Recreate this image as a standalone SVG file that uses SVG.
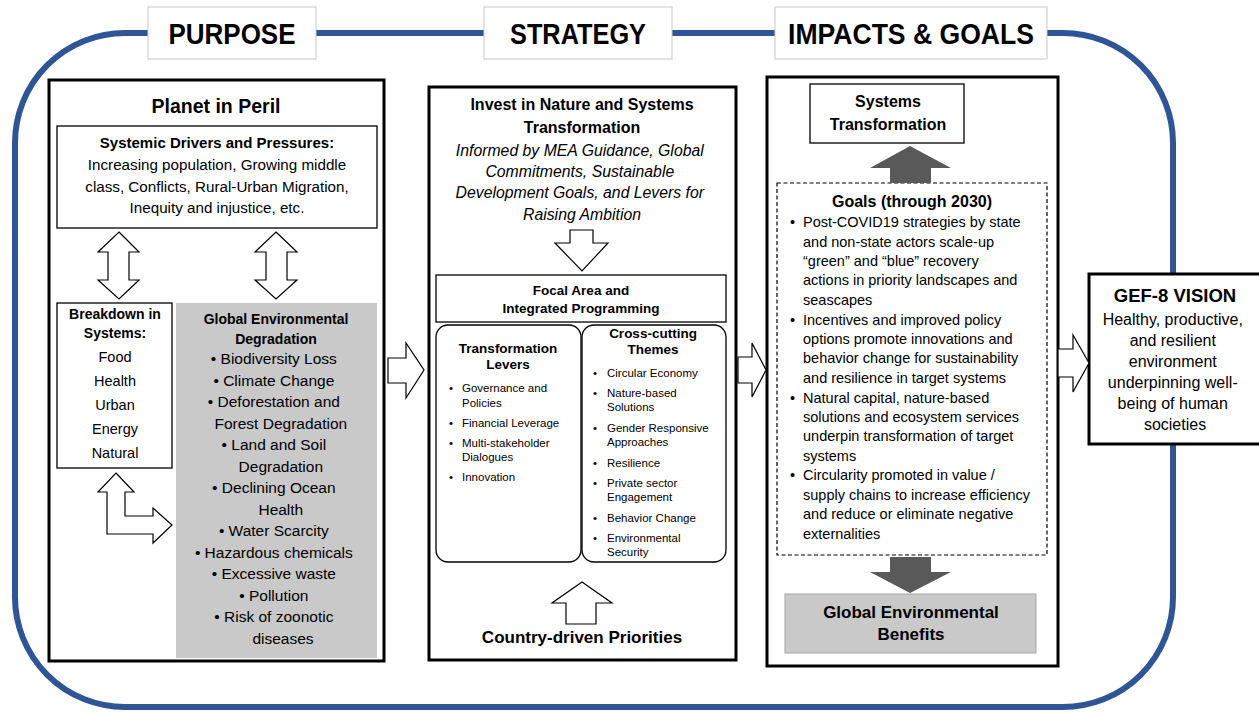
<svg xmlns="http://www.w3.org/2000/svg" width="1259" height="713" viewBox="0 0 1259 713">
<style>
text{font-family:"Liberation Sans",Arial,sans-serif;fill:#000}
.b{font-weight:bold}
.c{text-anchor:middle}
.i{font-style:italic}
.hdr{font-size:29px;font-weight:bold;text-anchor:middle}
.hbox{fill:#fff;stroke:#c8c8c8;stroke-width:1}
.big{fill:#fff;stroke:#000;stroke-width:3}
.thin{fill:#fff;stroke:#000;stroke-width:1.3}
.hollow{fill:#fff;stroke:#000;stroke-width:1.2;stroke-linejoin:miter}
.dark{fill:#595959;stroke:none}
</style>
<rect width="1259" height="713" fill="#fff"/>
<g id="frame">
<rect x="15" y="33" width="1158" height="674" rx="110" ry="110" fill="none" stroke="#2F5597" stroke-width="6"/>
</g>
<g id="headers">
<rect class="hbox" x="148" y="7" width="168" height="52"/>
<text class="hdr" x="232" y="44" textLength="127" lengthAdjust="spacingAndGlyphs">PURPOSE</text>
<rect class="hbox" x="484" y="7" width="188" height="52"/>
<text class="hdr" x="578" y="44" textLength="136" lengthAdjust="spacingAndGlyphs">STRATEGY</text>
<rect class="hbox" x="775" y="7" width="272" height="52"/>
<text class="hdr" x="911" y="44" textLength="246" lengthAdjust="spacingAndGlyphs">IMPACTS &amp; GOALS</text>
</g>
<g id="purpose">
<rect class="big" x="49" y="80" width="335" height="581"/>
<text class="b c" x="216" y="113" font-size="19.5">Planet in Peril</text>
<g id="drivers">
<rect class="thin" x="57" y="126" width="320" height="102"/>
<text class="b c" x="217" y="148" font-size="15">Systemic Drivers and Pressures:</text>
<text class="c" x="217" y="170" font-size="15.2">Increasing population, Growing middle</text>
<text class="c" x="217" y="192" font-size="15.2">class, Conflicts, Rural-Urban Migration,</text>
<text class="c" x="217" y="213" font-size="15.2">Inequity and injustice, etc.</text>
</g>
<g id="breakdown">
<rect class="thin" x="57" y="303" width="115" height="165"/>
<text class="b c" x="115" y="319" font-size="14">Breakdown in</text>
<text class="b c" x="115" y="338" font-size="14">Systems:</text>
<text class="c" x="115" y="362" font-size="14.5">Food</text>
<text class="c" x="115" y="386" font-size="14.5">Health</text>
<text class="c" x="115" y="410" font-size="14.5">Urban</text>
<text class="c" x="115" y="434" font-size="14.5">Energy</text>
<text class="c" x="115" y="458" font-size="14.5">Natural</text>
</g>
<g id="degradation">
<rect x="176" y="303" width="201" height="355" fill="#c9c9c9"/>
<text class="b c" x="276" y="324" font-size="14">Global Environmental</text>
<text class="b c" x="276" y="344" font-size="14">Degradation</text>
<text class="c" font-size="15.5">
<tspan x="276" y="364">• Biodiversity Loss</tspan>
<tspan x="276" y="386">• Climate Change</tspan>
<tspan x="276" y="407">• Deforestation and</tspan>
<tspan x="283" y="429">Forest Degradation</tspan>
<tspan x="276" y="450">• Land and Soil</tspan>
<tspan x="283" y="472">Degradation</tspan>
<tspan x="276" y="493">• Declining Ocean</tspan>
<tspan x="283" y="515">Health</tspan>
<tspan x="276" y="536">• Water Scarcity</tspan>
<tspan x="276" y="558">• Hazardous chemicals</tspan>
<tspan x="276" y="579">• Excessive waste</tspan>
<tspan x="276" y="601">• Pollution</tspan>
<tspan x="276" y="622">• Risk of zoonotic</tspan>
<tspan x="283" y="644">diseases</tspan>
</text>
</g>
</g>
<g id="strategy">
<rect class="big" x="429" y="87" width="307" height="573"/>
<text class="b c" x="582" y="110" font-size="16">Invest in Nature and Systems</text>
<text class="b c" x="582" y="133" font-size="16">Transformation</text>
<text class="i c" font-size="15.8">
<tspan x="582" y="156">Informed by MEA Guidance, Global</tspan>
<tspan x="582" y="177">Commitments, Sustainable</tspan>
<tspan x="582" y="198">Development Goals, and Levers for</tspan>
<tspan x="582" y="220">Raising Ambition</tspan>
</text>
<g id="focal">
<rect class="thin" x="436" y="275" width="290" height="47"/>
<text class="b c" x="581" y="295" font-size="13.5">Focal Area and</text>
<text class="b c" x="581" y="313" font-size="13.5">Integrated Programming</text>
</g>
<g id="levers">
<rect class="thin" x="436" y="325" width="145" height="237" rx="12" ry="12"/>
<text class="b c" x="508" y="353" font-size="13.5">Transformation</text>
<text class="b c" x="508" y="369" font-size="13.5">Levers</text>
<g font-size="11.5">
<text x="449" y="392">•</text><text x="462" y="392">Governance and</text>
<text x="462" y="407">Policies</text>
<text x="449" y="427">•</text><text x="462" y="427">Financial Leverage</text>
<text x="449" y="447">•</text><text x="462" y="447">Multi-stakeholder</text>
<text x="462" y="461">Dialogues</text>
<text x="449" y="481">•</text><text x="462" y="481">Innovation</text>
</g>
</g>
<g id="themes">
<rect class="thin" x="582" y="325" width="144" height="237" rx="12" ry="12"/>
<text class="b c" x="653" y="338" font-size="13.5">Cross-cutting</text>
<text class="b c" x="653" y="354" font-size="13.5">Themes</text>
<g font-size="11.5">
<text x="593" y="377">•</text><text x="607" y="377">Circular Economy</text>
<text x="593" y="397">•</text><text x="607" y="397">Nature-based</text>
<text x="607" y="411">Solutions</text>
<text x="593" y="432">•</text><text x="607" y="432">Gender Responsive</text>
<text x="607" y="446">Approaches</text>
<text x="593" y="467">•</text><text x="607" y="467">Resilience</text>
<text x="593" y="487">•</text><text x="607" y="487">Private sector</text>
<text x="607" y="501">Engagement</text>
<text x="593" y="522">•</text><text x="607" y="522">Behavior Change</text>
<text x="593" y="542">•</text><text x="607" y="542">Environmental</text>
<text x="607" y="556">Security</text>
</g>
</g>
<text class="b c" x="582" y="643" font-size="17">Country-driven Priorities</text>
</g>
<g id="impacts">
<rect class="big" x="767" y="77" width="291" height="589"/>
<g id="systems-transformation">
<rect class="thin" x="810" y="84" width="154" height="59"/>
<text class="b c" x="888" y="107" font-size="16">Systems</text>
<text class="b c" x="888" y="130" font-size="16">Transformation</text>
</g>
<g id="goals">
<rect x="777" y="183" width="270" height="372" fill="#fff" stroke="#000" stroke-width="1.2" stroke-dasharray="4 2.5"/>
<text class="b c" x="912" y="207" font-size="16">Goals (through 2030)</text>
<g font-size="14.5">
<text x="790" y="227">•</text><text x="803" y="227">Post-COVID19 strategies by state</text>
<text x="803" y="247">and non-state actors scale-up</text>
<text x="803" y="266">“green” and “blue” recovery</text>
<text x="803" y="285">actions in priority landscapes and</text>
<text x="803" y="305">seascapes</text>
<text x="790" y="325">•</text><text x="803" y="325">Incentives and improved policy</text>
<text x="803" y="344">options promote innovations and</text>
<text x="803" y="363">behavior change for sustainability</text>
<text x="803" y="383">and resilience in target systems</text>
<text x="790" y="403">•</text><text x="803" y="403">Natural capital, nature-based</text>
<text x="803" y="422">solutions and ecosystem services</text>
<text x="803" y="441">underpin transformation of target</text>
<text x="803" y="461">systems</text>
<text x="790" y="480">•</text><text x="803" y="480">Circularity promoted in value /</text>
<text x="803" y="500">supply chains to increase efficiency</text>
<text x="803" y="519">and reduce or eliminate negative</text>
<text x="803" y="539">externalities</text>
</g>
</g>
<g id="benefits">
<rect x="785" y="594" width="251" height="59" fill="#c9c9c9" stroke="#a6a6a6" stroke-width="1"/>
<text class="b c" x="911" y="618" font-size="17">Global Environmental</text>
<text class="b c" x="911" y="640" font-size="17">Benefits</text>
</g>
</g>
<g id="vision">
<rect x="1089" y="274" width="172" height="170" fill="#fff" stroke="#000" stroke-width="3"/>
<text class="b c" x="1175" y="302" font-size="18.5">GEF-8 VISION</text>
<text class="c" font-size="16">
<tspan x="1175" y="325">Healthy, productive,</tspan>
<tspan x="1175" y="346">and resilient</tspan>
<tspan x="1175" y="367">environment</tspan>
<tspan x="1175" y="388">underpinning well-</tspan>
<tspan x="1175" y="409">being of human</tspan>
<tspan x="1175" y="430">societies</tspan>
</text>
</g>
<g id="connectors">
<path class="hollow" d="M119,232 L139,252 L129,252 L129,280 L139,280 L119,299 L98,280 L108,280 L108,252 L98,252 Z"/>
<path class="hollow" d="M276,232 L297,252 L287,252 L287,280 L297,280 L276,299 L255,280 L266,280 L266,252 L255,252 Z"/>
<path class="hollow" d="M116,473 L134,492 L125,492 L125,516 L153,516 L153,508 L172,525 L153,543 L153,534 L107,534 L107,492 L98,492 Z"/>
<path class="hollow" d="M388,358 L406,358 L406,343 L424,370 L406,398 L406,383 L388,383 Z"/>
<path class="hollow" d="M738,357 L752,357 L752,343 L766,370 L752,397 L752,383 L738,383 Z"/>
<path class="hollow" d="M1058,349 L1073,349 L1073,335 L1089,363 L1073,392 L1073,377 L1058,377 Z"/>
<path class="hollow" d="M570,230 L593,230 L593,243 L608,243 L582,271 L555,243 L570,243 Z"/>
<path class="hollow" d="M582,582 L612,603 L596,603 L596,624 L566,624 L566,603 L552,603 Z"/>
<path class="dark" d="M910,146 L951,168 L931,168 L931,183 L890,183 L890,168 L870,168 Z"/>
<path class="dark" d="M890,557 L931,557 L931,572 L951,572 L910,593 L870,572 L890,572 Z"/>
</g>
</svg>
